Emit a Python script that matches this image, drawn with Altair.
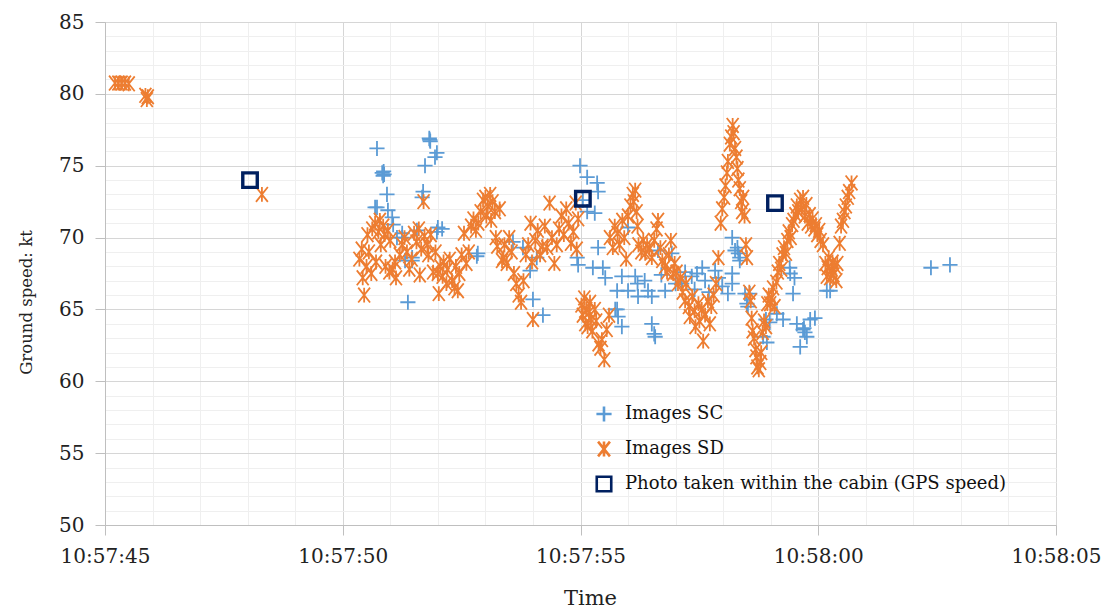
import json
import altair as alt
import pandas as pd

# ---- tick labels / series names ----
x_tick_labels = ["10:57:45", "10:57:50", "10:57:55", "10:58:00", "10:58:05"]
series_names = ["Images SC", "Images SD", "Photo taken within the cabin (GPS speed)"]

# ---- data: (seconds after 10:57:45, ground speed kt) ----
sc_points = [
    (5.72, 76.2), (5.83, 74.5), (5.85, 74.3), (5.87, 74.4), (5.86, 74.6), (5.93, 73.0),
    (5.68, 72.1), (5.72, 72.1), (5.95, 71.9), (6.04, 71.4), (6.06, 70.9), (6.14, 70.0),
    (6.25, 70.0), (6.25, 70.3), (6.56, 70.5), (6.31, 68.4), (6.46, 68.4), (6.46, 68.6),
    (6.37, 65.5), (6.82, 76.9), (6.84, 76.7), (6.83, 76.8), (6.98, 75.9), (6.94, 75.6),
    (6.73, 75.0), (6.69, 73.2), (6.67, 72.8), (7.00, 70.7), (7.09, 70.6), (6.98, 70.4),
    (7.84, 68.9), (7.82, 68.7), (8.58, 69.7), (8.79, 69.3), (9.08, 68.6), (8.94, 67.7),
    (9.00, 65.7), (9.21, 64.6), (9.99, 75.0), (10.14, 74.2), (10.35, 73.8), (10.37, 73.2),
    (10.05, 72.6), (10.30, 71.7), (10.14, 71.8), (9.93, 68.6), (9.95, 68.1), (10.37, 69.3),
    (10.26, 67.9), (10.47, 67.9), (10.52, 67.2), (10.77, 66.3), (10.77, 65.0), (11.00, 70.7),
    (10.87, 67.3), (11.15, 67.3), (11.00, 66.3), (11.21, 65.9), (11.42, 66.3), (11.50, 65.9),
    (10.73, 65.0), (10.79, 64.5), (10.87, 63.8), (11.50, 64.0), (11.57, 63.1), (11.55, 63.3),
    (11.63, 69.1), (11.78, 66.3), (11.92, 68.9), (12.13, 66.8), (12.56, 67.9), (12.34, 67.3),
    (12.62, 67.0), (12.83, 67.7), (12.98, 66.6), (13.10, 66.1), (13.19, 67.5), (13.19, 66.8),
    (13.19, 70.0), (13.25, 69.1), (13.35, 68.6), (13.46, 66.1), (13.52, 65.2), (13.35, 68.4),
    (13.56, 66.1), (13.50, 65.4), (13.84, 63.1), (13.92, 62.7), (14.13, 64.7), (14.26, 64.3),
    (14.41, 67.5), (14.47, 66.1), (14.55, 64.0), (14.68, 63.6), (14.76, 63.1), (14.83, 64.3),
    (14.62, 62.4), (15.18, 66.3), (15.25, 66.3), (14.40, 67.9), (14.50, 67.2), (14.72, 63.4),
    (14.70, 63.7), (14.93, 64.4), (13.90, 64.3), (13.98, 64.1), (12.20, 67.6), (12.40, 66.4),
    (12.70, 66.2), (12.90, 67.2), (12.45, 67.5), (11.20, 66.8), (11.35, 67.0), (11.70, 67.4),
    (12.00, 66.8), (13.30, 69.3), (13.32, 68.9), (17.37, 67.9), (17.77, 68.1),
]

sd_points = [
    (0.21, 80.75), (0.28, 80.75), (0.35, 80.75), (0.42, 80.75), (0.50, 80.7),
    (0.85, 79.9), (0.88, 79.6), (0.90, 79.8), (3.30, 73.0),
    (5.35, 68.5), (5.40, 69.2), (5.42, 67.2), (5.45, 66.0), (5.50, 68.0), (5.52, 70.2),
    (5.55, 69.0), (5.60, 67.5), (5.62, 70.6), (5.68, 71.0), (5.70, 68.3), (5.75, 70.4),
    (5.78, 71.2), (5.80, 69.5), (5.85, 70.8), (5.88, 70.2), (5.90, 68.0), (5.95, 70.5),
    (6.00, 69.8), (5.98, 67.6),
    (6.05, 67.8), (6.10, 68.3), (6.12, 67.2), (6.20, 68.8), (6.25, 69.5), (6.30, 70.0),
    (6.35, 69.0), (6.40, 67.8), (6.45, 68.5), (6.50, 70.3), (6.55, 69.7), (6.60, 70.6),
    (6.62, 67.4), (6.65, 69.2), (6.70, 72.5), (6.72, 70.1), (6.78, 69.5), (6.80, 68.8),
    (6.85, 70.2), (6.90, 67.6), (6.95, 69.0),
    (7.00, 67.5), (7.02, 66.1), (7.05, 68.0), (7.10, 67.3), (7.12, 68.3), (7.18, 66.8),
    (7.20, 67.8), (7.25, 68.5), (7.30, 67.0), (7.35, 66.5), (7.38, 68.0), (7.42, 66.3),
    (7.45, 67.5), (7.50, 68.8), (7.55, 70.3), (7.60, 68.2), (7.65, 69.0), (7.70, 70.8),
    (7.75, 71.3), (7.80, 70.5), (7.85, 71.0), (7.90, 71.8), (7.95, 72.6),
    (8.00, 72.8), (8.02, 71.5), (8.05, 72.2), (8.10, 73.0), (8.12, 71.2), (8.15, 72.5),
    (8.20, 71.8), (8.22, 70.0), (8.25, 69.4), (8.30, 72.0), (8.35, 68.4), (8.38, 68.6),
    (8.40, 69.5), (8.45, 68.2), (8.50, 70.0), (8.55, 69.0), (8.60, 67.5), (8.65, 66.8),
    (8.70, 66.0), (8.75, 65.5), (8.80, 67.0), (8.85, 68.8), (8.90, 69.5), (8.95, 71.0),
    (9.00, 64.3), (8.98, 68.3),
    (9.05, 69.8), (9.10, 70.5), (9.15, 68.8), (9.20, 69.4), (9.25, 70.8), (9.30, 69.3),
    (9.35, 72.4), (9.40, 70.0), (9.45, 68.2), (9.50, 69.5), (9.55, 70.6), (9.60, 71.5),
    (9.65, 70.2), (9.70, 72.0), (9.75, 71.0), (9.80, 69.6), (9.85, 70.4), (9.90, 72.4),
    (9.92, 69.2), (9.95, 71.3),
    (10.02, 65.3), (10.05, 64.6), (10.08, 65.8), (10.10, 64.0), (10.12, 65.0), (10.15, 63.8),
    (10.18, 64.8), (10.20, 65.5), (10.22, 64.3), (10.25, 63.5), (10.30, 65.0), (10.33, 64.2),
    (10.38, 62.6), (10.42, 62.3), (10.45, 62.9), (10.50, 61.5), (10.55, 63.6), (10.60, 64.6),
    (10.62, 70.0), (10.68, 69.3), (10.72, 70.8), (10.78, 70.3), (10.82, 69.5), (10.88, 71.2),
    (10.92, 70.0), (10.96, 68.5),
    (11.00, 71.5), (11.05, 72.2), (11.10, 73.0), (11.12, 72.5), (11.15, 73.3), (11.18, 71.8),
    (11.20, 70.8), (11.22, 69.5), (11.28, 69.0), (11.32, 69.8), (11.36, 68.9), (11.40, 69.5),
    (11.45, 69.2), (11.50, 68.6), (11.55, 69.8), (11.60, 70.6), (11.63, 71.2), (11.68, 69.3),
    (11.72, 68.4), (11.78, 68.0), (11.82, 67.6), (11.86, 68.8), (11.90, 69.8), (11.95, 67.5),
    (11.98, 68.2),
    (12.02, 67.6), (12.05, 66.8), (12.10, 67.2), (12.15, 66.2), (12.20, 65.6), (12.22, 66.8),
    (12.28, 65.2), (12.30, 64.5), (12.35, 65.9), (12.40, 64.9), (12.42, 63.8), (12.48, 65.4),
    (12.50, 64.2), (12.55, 65.0), (12.58, 62.8), (12.62, 64.6), (12.68, 65.6), (12.72, 64.0),
    (12.75, 65.2), (12.80, 66.0), (12.85, 66.8), (12.90, 68.6), (12.95, 71.0), (12.98, 72.0),
    (13.02, 72.8), (13.05, 73.6), (13.08, 74.5), (13.10, 75.3), (13.14, 76.5), (13.17, 77.0),
    (13.20, 77.8), (13.22, 77.3), (13.25, 76.2), (13.28, 75.6), (13.30, 74.8), (13.32, 74.0),
    (13.35, 73.4), (13.38, 72.5), (13.40, 71.8), (13.42, 72.8), (13.45, 71.5), (13.48, 69.5),
    (13.50, 68.6), (13.55, 66.2), (13.58, 65.6), (13.60, 64.4), (13.62, 63.5), (13.65, 63.0),
    (13.68, 62.2), (13.70, 61.7), (13.72, 61.0), (13.75, 60.8), (13.78, 61.3), (13.80, 62.0),
    (13.83, 63.4), (13.86, 64.2), (13.90, 63.8), (13.93, 65.4), (13.96, 66.0), (13.99, 65.4),
    (14.02, 65.8), (14.05, 66.5), (14.08, 65.2), (14.12, 66.9), (14.15, 67.6), (14.18, 68.2),
    (14.22, 67.8), (14.25, 68.8), (14.28, 69.3), (14.32, 68.9), (14.35, 69.8), (14.38, 70.4),
    (14.42, 70.0), (14.45, 70.9), (14.48, 71.2), (14.52, 71.6), (14.55, 72.2), (14.58, 71.8),
    (14.62, 72.6), (14.65, 72.0), (14.68, 72.8), (14.72, 71.5), (14.75, 72.3), (14.78, 71.0),
    (14.82, 71.6), (14.85, 70.8), (14.88, 71.3), (14.92, 70.6), (14.95, 70.9), (14.98, 70.2),
    (15.02, 70.5), (15.05, 69.8),
    (15.10, 69.5), (15.15, 68.2), (15.18, 67.3), (15.20, 67.9), (15.22, 68.6), (15.25, 67.2),
    (15.28, 67.8), (15.30, 68.3), (15.32, 67.4), (15.35, 68.0), (15.38, 67.0), (15.40, 68.2),
    (15.45, 69.6), (15.48, 70.8), (15.52, 71.2), (15.55, 71.8), (15.58, 72.2), (15.62, 72.8),
    (15.65, 73.2), (15.70, 73.8),
]

gps_points = [(3.05, 74.0), (10.05, 72.7), (14.09, 72.4)]

# ---- table ----
rows = []
for name, pts in zip(series_names, [sc_points, sd_points, gps_points]):
    for t, v in pts:
        rows.append({"t": t, "v": v, "series": name})
df = pd.DataFrame(rows)

FONT = "DejaVu Serif"
PLUS = "M-1,0L1,0M0,-1L0,1"
STAR = "M-0.8,-1L0.8,1M-0.8,1L0.8,-1M0,-1L0,1"

major = "datum.value % 5 === 0"
x_label_expr = f"{major} ? {json.dumps(x_tick_labels)}[datum.value / 5] : ''"

grid_color = {"condition": {"test": major, "value": "#d6d6d6"}, "value": "#efefef"}
tick_opacity = {"condition": {"test": major, "value": 1}, "value": 0}

legend = alt.Legend(
    title=None, orient="none", legendX=490, legendY=383, padding=0,
    labelFont=FONT, labelFontSize=18, labelColor="#111111", labelOffset=12,
    rowPadding=9, symbolStrokeWidth=2.6, labelLimit=600,
)

dom = series_names
x_enc = alt.X("t:Q", title="Time",
              scale=alt.Scale(domain=[0, 20], nice=False, zero=False),
              axis=alt.Axis(values=list(range(0, 21)), labelExpr=x_label_expr,
                            labelOverlap=False, labelFlush=False,
                            gridColor=grid_color, tickOpacity=tick_opacity,
                            tickColor="#bfbfbf", tickSize=10, domainColor="#bfbfbf",
                            labelFont=FONT, labelFontSize=20, labelColor="#222222",
                            labelPadding=11, titleFont=FONT, titleFontSize=21,
                            titleFontWeight="normal", titleColor="#222222",
                            titlePadding=21, titleX=485))
y_enc = alt.Y("v:Q", title="Ground speed: kt",
              scale=alt.Scale(domain=[50, 85], nice=False, zero=False),
              axis=alt.Axis(values=list(range(50, 86)),
                            labelExpr=f"{major} ? datum.value : ''",
                            labelOverlap=False, labelFlush=False,
                            gridColor=grid_color, tickOpacity=tick_opacity,
                            tickColor="#bfbfbf", tickSize=10, domainColor="#bfbfbf",
                            labelFont=FONT, labelFontSize=20, labelColor="#222222",
                            labelPadding=11, titleFont=FONT, titleFontSize=16.5,
                            titleFontWeight="normal", titleColor="#222222",
                            titlePadding=24, titleY=280))
color_enc = alt.Color("series:N", scale=alt.Scale(domain=dom, range=["#5B9BD5", "#ED7D31", "#002060"]), legend=legend)
shape_enc = alt.Shape("series:N", scale=alt.Scale(domain=dom, range=[PLUS, STAR, "square"]), legend=legend)
size_enc = alt.Size("series:N", scale=alt.Scale(domain=dom, range=[230, 210, 150]), legend=legend)

base = alt.Chart(df).encode(x=x_enc, y=y_enc, color=color_enc, shape=shape_enc, size=size_enc)

images = base.transform_filter(
    alt.FieldOneOfPredicate(field="series", oneOf=series_names[:2])
).mark_point(filled=False, opacity=1, strokeWidth=1.8)

gps = base.transform_filter(
    alt.FieldEqualPredicate(field="series", equal=series_names[2])
).mark_point(filled=False, opacity=1, strokeWidth=3.4)

chart = alt.layer(images, gps).properties(
    width=951, height=503,
    autosize=alt.AutoSizeParams(type="none"),
    padding={"left": 97, "top": 14, "right": 46, "bottom": 88},
).configure_view(strokeWidth=0).configure(background="white")

chart.save("out.html", embed_options={"renderer": "svg", "actions": False})
